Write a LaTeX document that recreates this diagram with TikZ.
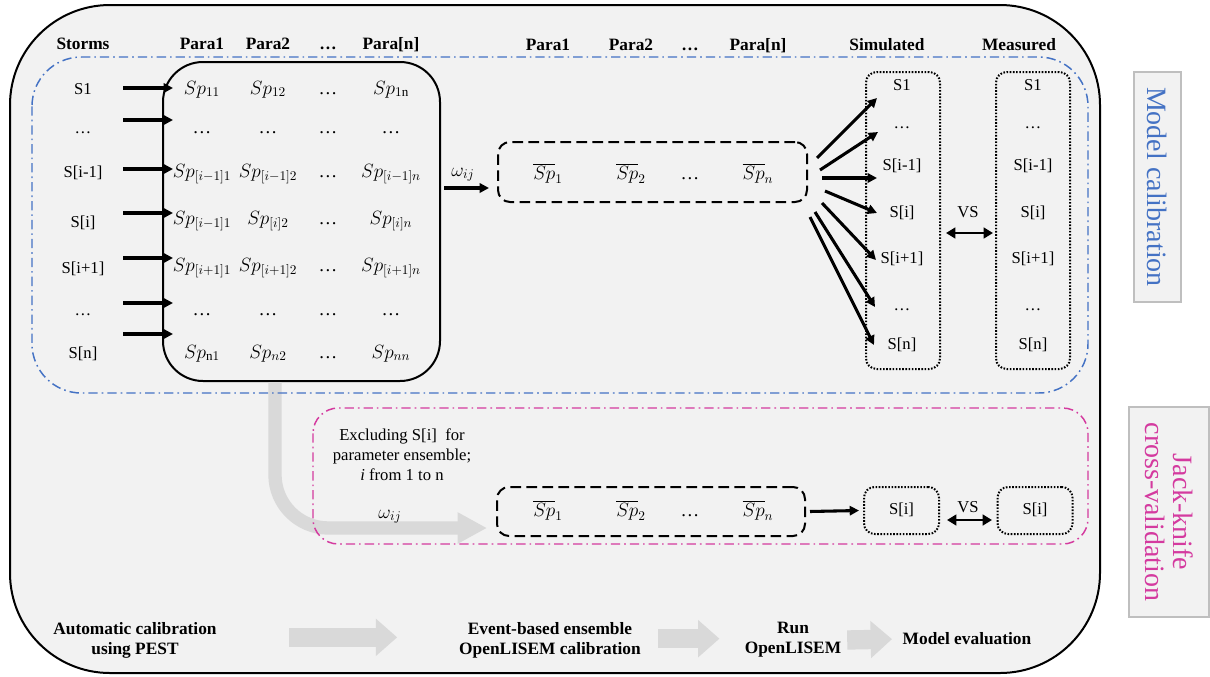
\documentclass[tikz,border=0pt]{standalone}
\usepackage{fontspec}
\setmainfont{Liberation Serif}
\usetikzlibrary{arrows.meta}

\definecolor{panelgray}{HTML}{F2F2F2}
\definecolor{calblue}{HTML}{4472C4}
\definecolor{jackpink}{HTML}{D43A9F}
\definecolor{flowgray}{HTML}{D9D9D9}
\definecolor{labelgray}{HTML}{BFBFBF}

\tikzset{
  head/.style={font=\fontsize{13}{15}\selectfont\bfseries,anchor=base},
  item/.style={font=\fontsize{12.5}{15}\selectfont,anchor=base},
  para/.style={font=\fontsize{14}{16}\selectfont,anchor=base},
  flowtext/.style={font=\fontsize{13}{15}\selectfont\bfseries,align=center},
  calregion/.style={draw=calblue,line width=1.1pt,dash pattern=on 7pt off 3pt on 1.2pt off 3pt,rounded corners=37pt},
  jackregion/.style={draw=jackpink,line width=1.1pt,dash pattern=on 7pt off 3pt on 1.2pt off 3pt,rounded corners=19pt},
  matbox/.style={draw,line width=1.5pt,rounded corners=30pt},
  ensbox/.style={draw,line width=1.5pt,dash pattern=on 8pt off 4pt,rounded corners=9pt},
  runbox/.style={draw,line width=1.5pt,dash pattern=on 1.2pt off 1.2pt,rounded corners=8pt},
  sidebox/.style={draw=labelgray,line width=1.2pt,fill=panelgray,rotate=-90,font=\fontsize{21}{21}\selectfont,align=center},
  thickarrow/.style={line width=2.3pt,-{Triangle[length=7pt,width=7pt]}},
  vsarrow/.style={line width=2pt,{Triangle[length=7pt,width=8pt]}-{Triangle[length=7pt,width=8pt]}},
  flowarrow/.style={draw=flowgray,line width=14.5pt,-{Triangle[length=16pt,width=27pt]}},
  bendarrow/.style={draw=flowgray,line width=10pt,rounded corners=40pt,-{Triangle[length=22pt,width=22pt]}}
}

\begin{document}
\begin{tikzpicture}[x=0.75pt,y=-0.75pt]
\useasboundingbox (0,0) rectangle (1210,676);

% big frame
\draw[line width=1.5pt,fill=panelgray,rounded corners=75pt] (10,5) rectangle (1100,673);

% boxes
\node[matbox,minimum width=207.75pt,minimum height=239.25pt] (mat)   at (301.5,221.5) {};
\node[ensbox,minimum width=231.75pt,minimum height=45pt]     (ens1)  at (652.5,172) {};
\node[ensbox,minimum width=231pt,minimum height=36.75pt]     (ens2)  at (651,511.5) {};
\node[runbox,minimum width=55.5pt,minimum height=222.75pt]   (sim)   at (903,220.5) {};
\node[runbox,minimum width=55.5pt,minimum height=222.75pt]   (meas)  at (1033,220.5) {};
\node[runbox,minimum width=56.25pt,minimum height=35.25pt]   (simi)  at (901.5,510.5) {};
\node[runbox,minimum width=56.25pt,minimum height=35.25pt]   (measi) at (1035,510.5) {};

% jack-knife path
\coordinate (g1) at (487,528);
\draw[bendarrow] ([xshift=-19.9pt]mat.south) |- (g1);

\draw[calregion]  (32,57) rectangle (1088,393);
\draw[jackregion] (313,408) rectangle (1088,544);

% side labels
\node[sidebox,text=calblue,minimum width=172.5pt,minimum height=35.25pt] (cal)  at (1157.5,187) {Model calibration};
\node[sidebox,text=jackpink,minimum width=157.5pt,minimum height=60pt]   (jack) at (1169,512) {Jack-knife\\cross-validation};

% headers
\begin{scope}[every node/.style={head}]
  \node (hst)  at (83,49)   {Storms};
  \node (ha1)  at (202,49)  {Para1};
  \node (ha2)  at (268,49)  {Para2};
  \node (ha3)  at (328,49)  {…};
  \node (ha4)  at (391,49)  {Para[n]};
  \node (hb1)  at (548,50)  {Para1};
  \node (hb2)  at (631,50)  {Para2};
  \node (hb3)  at (690,50)  {…};
  \node (hb4)  at (758,50)  {Para[n]};
  \node (hsim) at (887,50)  {Simulated};
  \node (hmea) at (1019,50) {Measured};
\end{scope}

% storms
\begin{scope}[every node/.style={item}]
  \node (s1) at (83,94)  {S1};
  \node (s2) at (83,133) {…};
  \node (s3) at (83,177) {S[i-1]};
  \node (s4) at (83,227) {S[i]};
  \node (s5) at (83,273) {S[i+1]};
  \node (s6) at (83,315) {…};
  \node (s7) at (83,358) {S[n]};
\end{scope}

% parameter sets
\begin{scope}[every node/.style={para}]
  \node (p11) at (202,94)  {$Sp_{11}$};
  \node (p12) at (268,94)  {$Sp_{12}$};
  \node (p13) at (328,94)  {…};
  \node (p14) at (391,94)  {$Sp_{1\mathrm{n}}$};
  \node (p21) at (202,133) {…};
  \node (p22) at (268,133) {…};
  \node (p23) at (328,133) {…};
  \node (p24) at (391,133) {…};
  \node (p31) at (202,177) {$Sp_{[i-1]1}$};
  \node (p32) at (268,177) {$Sp_{[i-1]2}$};
  \node (p33) at (328,177) {…};
  \node (p34) at (391,177) {$Sp_{[i-1]n}$};
  \node (p41) at (202,224) {$Sp_{[i-1]1}$};
  \node (p42) at (268,224) {$Sp_{[i]2}$};
  \node (p43) at (328,224) {…};
  \node (p44) at (391,224) {$Sp_{[i]n}$};
  \node (p51) at (202,271) {$Sp_{[i+1]1}$};
  \node (p52) at (268,271) {$Sp_{[i+1]2}$};
  \node (p53) at (328,271) {…};
  \node (p54) at (391,271) {$Sp_{[i+1]n}$};
  \node (p61) at (202,315) {…};
  \node (p62) at (268,315) {…};
  \node (p63) at (328,315) {…};
  \node (p64) at (391,315) {…};
  \node (p71) at (202,358) {$Sp_{\mathrm{n}1}$};
  \node (p72) at (268,358) {$Sp_{n2}$};
  \node (p73) at (328,358) {…};
  \node (p74) at (391,358) {$Sp_{nn}$};
\end{scope}

% ensemble means
\begin{scope}[every node/.style={para}]
  \node (e11) at (548,179) {$\overline{Sp}_1$};
  \node (e12) at (631,179) {$\overline{Sp}_2$};
  \node (e13) at (690,179) {…};
  \node (e14) at (758,179) {$\overline{Sp}_n$};
  \node (e21) at (548,516) {$\overline{Sp}_1$};
  \node (e22) at (631,516) {$\overline{Sp}_2$};
  \node (e23) at (690,516) {…};
  \node (e24) at (758,516) {$\overline{Sp}_n$};
  \node (w1)  at (463,176) {$\omega_{ij}$};
  \node (w2)  at (390,518) {$\omega_{ij}$};
\end{scope}

% simulated and measured
\begin{scope}[every node/.style={item}]
  \node (r1) at (902,90)  {S1};
  \node (r2) at (902,128) {…};
  \node (r3) at (902,170) {S[i-1]};
  \node (r4) at (902,217) {S[i]};
  \node (r5) at (902,263) {S[i+1]};
  \node (r6) at (902,310) {…};
  \node (r7) at (902,349) {S[n]};
  \node (m1) at (1033,90)  {S1};
  \node (m2) at (1033,128) {…};
  \node (m3) at (1033,170) {S[i-1]};
  \node (m4) at (1033,217) {S[i]};
  \node (m5) at (1033,263) {S[i+1]};
  \node (m6) at (1033,310) {…};
  \node (m7) at (1033,349) {S[n]};
  \node (vs1) at (968,217) {VS};
  \node (ri) at (901.5,514) {S[i]};
  \node (mi) at (1035,514)  {S[i]};
  \node (vs2) at (968,512)  {VS};
\end{scope}

\node[item,align=center,anchor=center] (excl) at (402,455)
  {Excluding S[i]\ \ for\\parameter ensemble;\\\textit{i} from 1 to n};

% storm arrows
\coordinate (a1) at (123,88);  \coordinate (b1) at (173,88);
\coordinate (a2) at (123,120); \coordinate (b2) at (173,120);
\coordinate (a3) at (123,169); \coordinate (b3) at (173,169);
\coordinate (a4) at (123,213); \coordinate (b4) at (173,213);
\coordinate (a5) at (123,258); \coordinate (b5) at (173,258);
\coordinate (a6) at (123,303); \coordinate (b6) at (173,303);
\coordinate (a7) at (123,334); \coordinate (b7) at (173,334);

% fan arrows
\coordinate (f1) at (817,158); \coordinate (t1) at (877,98);
\coordinate (f2) at (820,170); \coordinate (t2) at (878,132);
\coordinate (f3) at (822,178); \coordinate (t3) at (877,178);
\coordinate (f4) at (825,191); \coordinate (t4) at (877,213);
\coordinate (f5) at (822,203); \coordinate (t5) at (876,260);
\coordinate (f6) at (815,212); \coordinate (t6) at (875,307);
\coordinate (f7) at (810,217); \coordinate (t7) at (874,345);

\coordinate (o1) at (444,188); \coordinate (o2) at (489,188);
\coordinate (v1) at (946,233); \coordinate (v2) at (993,233);
\coordinate (v3) at (947,520); \coordinate (v4) at (992,520);

\begin{scope}[every edge/.style={draw,thickarrow}]
  \path (a1) edge (b1);
  \path (a2) edge (b2);
  \path (a3) edge (b3);
  \path (a4) edge (b4);
  \path (a5) edge (b5);
  \path (a6) edge (b6);
  \path (a7) edge (b7);
  \path (o1) edge (o2);
  \path (f1) edge (t1);
  \path (f2) edge (t2);
  \path (f3) edge (t3);
  \path (f4) edge (t4);
  \path (f5) edge (t5);
  \path (f6) edge (t6);
  \path (f7) edge (t7);
  \path ([xshift=3pt]ens2.east) edge ([xshift=-3pt]simi.west);
\end{scope}

\begin{scope}[every edge/.style={draw,vsarrow}]
  \path (v1) edge (v2);
  \path (v3) edge (v4);
\end{scope}

% workflow
\node[flowtext] (auto)  at (135,640) {Automatic calibration\\using PEST};
\node[flowtext] (event) at (550,640) {Event-based ensemble\\OpenLISEM calibration};
\node[flowtext] (run)   at (793,640) {Run\\OpenLISEM};
\node[flowtext] (evalm) at (967,639) {Model evaluation};

\draw[flowarrow,shorten <=51pt,shorten >=43pt]  ([yshift=2pt]auto.east)  -- ([yshift=2pt]event.west);
\draw[flowarrow,shorten <=9.75pt,shorten >=15.5pt] ([yshift=1pt]event.east) -- ([yshift=1pt]run.west);
\draw[flowarrow,shorten <=1pt,shorten >=4.5pt]  (run.east) -- (evalm.west);

\end{tikzpicture}
\end{document}
